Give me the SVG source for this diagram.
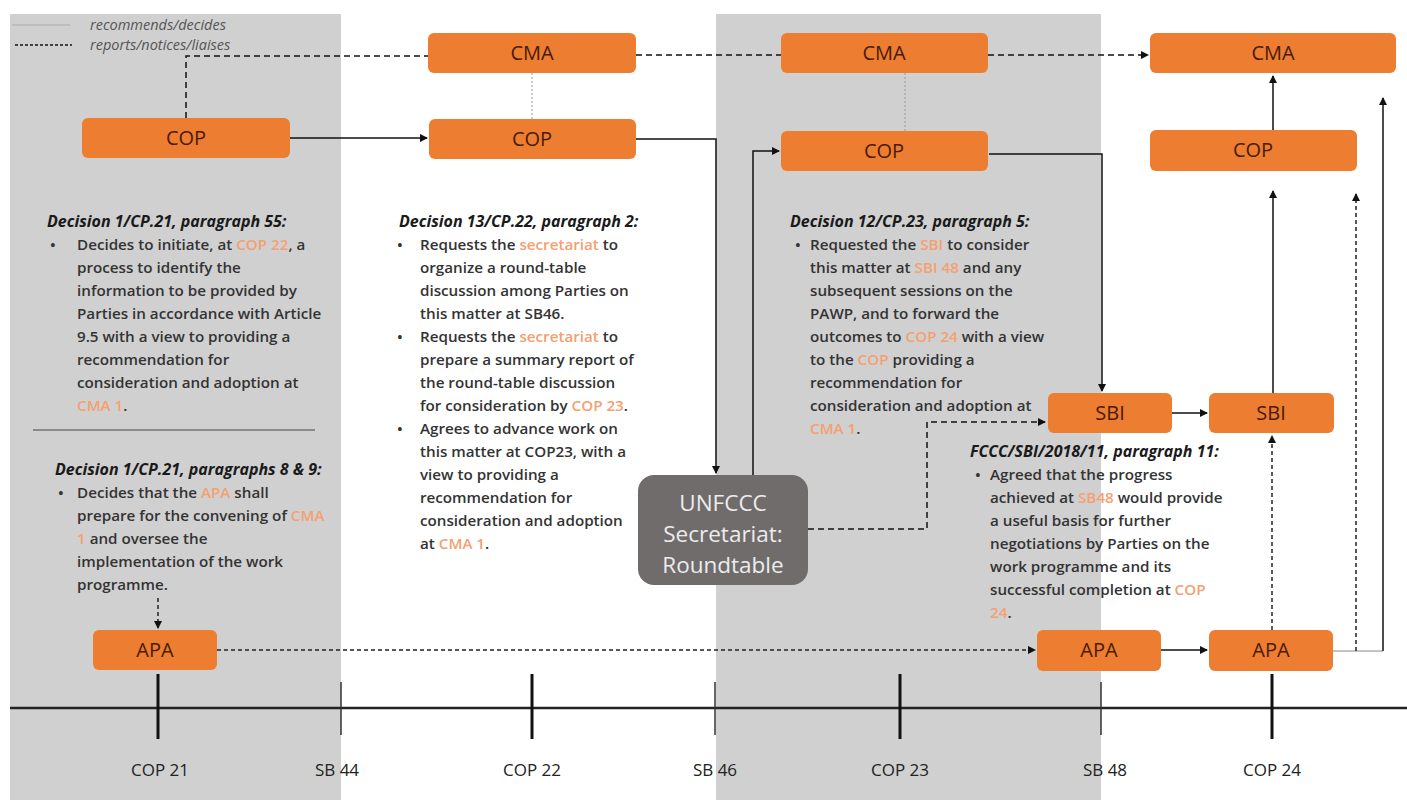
<svg xmlns="http://www.w3.org/2000/svg" width="1407" height="800" viewBox="0 0 1407 800">
<defs>
<style>
.band{fill:#D0D0D0}
.box rect{fill:#ED7D31}
.box text{font-family:"Open Sans","Liberation Sans",sans-serif;font-size:20px;fill:#4a1a08;text-anchor:middle}
.sec rect{fill:#716C6C}
.sec text{font-family:"Open Sans","Liberation Sans",sans-serif;font-size:22.5px;fill:#ECECEC;text-anchor:middle}
.txt{font-family:"Open Sans","Liberation Sans",sans-serif;font-size:15.2px;font-weight:600;fill:#333}
.hd{font-family:"Open Sans","Liberation Sans",sans-serif;font-size:16px;font-weight:700;font-style:italic;fill:#1a1a1a}
.o{fill:#F4A070}
.leg{font-family:"Open Sans","Liberation Sans",sans-serif;font-size:14.5px;font-style:italic;fill:#555}
.tl{font-family:"Open Sans","Liberation Sans",sans-serif;font-size:17px;fill:#222;text-anchor:middle}
.solid{fill:none;stroke:#111;stroke-width:1.5}
.dash{fill:none;stroke:#111;stroke-width:1.5;stroke-dasharray:6 4}
.fdash{fill:none;stroke:#222;stroke-width:1.5;stroke-dasharray:4 3}
.dot{fill:none;stroke:#9a9a9a;stroke-width:1;stroke-dasharray:2 2}
.thin{fill:none;stroke:#888;stroke-width:1}
</style>
<marker id="ah" markerWidth="8" markerHeight="8" refX="7" refY="4" orient="auto" markerUnits="userSpaceOnUse">
<path d="M0,0 L8,4 L0,8 Z" fill="#111"/>
</marker>
</defs>

<rect class="band" x="10" y="14" width="331" height="786"/>
<rect class="band" x="716" y="14" width="385" height="786"/>

<g id="legend">
<line x1="12" y1="25" x2="70" y2="25" stroke="#aaa" stroke-width="1"/>
<text class="leg" x="90" y="30">recommends/decides</text>
<line x1="15" y1="45" x2="72" y2="45" stroke="#111" stroke-width="1.5" stroke-dasharray="3 2"/>
<text class="leg" x="90" y="50">reports/notices/liaises</text>
</g>

<g id="timeline">
<line x1="10" y1="708" x2="1407" y2="708" stroke="#222" stroke-width="2.5"/>
<g stroke="#111" stroke-width="3">
<line x1="158" y1="674" x2="158" y2="739"/>
<line x1="532" y1="674" x2="532" y2="739"/>
<line x1="900" y1="674" x2="900" y2="739"/>
<line x1="1272" y1="674" x2="1272" y2="739"/>
</g>
<g stroke="#333" stroke-width="1.5">
<line x1="341" y1="682" x2="341" y2="735"/>
<line x1="715" y1="682" x2="715" y2="735"/>
<line x1="1101" y1="682" x2="1101" y2="735"/>
</g>
<text class="tl" x="160" y="776">COP 21</text>
<text class="tl" x="337" y="776">SB 44</text>
<text class="tl" x="532" y="776">COP 22</text>
<text class="tl" x="715" y="776">SB 46</text>
<text class="tl" x="900" y="776">COP 23</text>
<text class="tl" x="1105" y="776">SB 48</text>
<text class="tl" x="1272" y="776">COP 24</text>
</g>

<g id="connectors">
<path class="dash" d="M186,118 V56 H428"/>
<path class="dash" d="M636,55 H781"/>
<path class="dash" d="M988,55 H1148" marker-end="url(#ah)"/>
<path class="dot" d="M532,73 V119"/>
<path class="dot" d="M905,73 V131"/>
<path class="solid" d="M290,138 H427" marker-end="url(#ah)"/>
<path class="solid" d="M636,139 H716 V473" marker-end="url(#ah)"/>
<path class="solid" d="M753,475 V151 H779" marker-end="url(#ah)"/>
<path class="solid" d="M989,154 H1102 V391" marker-end="url(#ah)"/>
<path class="dash" d="M808,529 H927 V422 H1045" marker-end="url(#ah)"/>
<path class="fdash" d="M158,598 V628" marker-end="url(#ah)"/>
<path class="fdash" d="M217,650 H1035" marker-end="url(#ah)"/>
<path class="solid" d="M1161,650 H1207" marker-end="url(#ah)"/>
<path class="solid" d="M1172,413 H1207" marker-end="url(#ah)"/>
<path class="solid" d="M1273,393 V191" stroke="#444" marker-end="url(#ah)"/>
<path class="solid" d="M1273,130 V76" stroke="#444" marker-end="url(#ah)"/>
<path class="fdash" d="M1272,630 V436" marker-end="url(#ah)"/>
<path class="thin" d="M1333,651 H1383"/>
<path class="fdash" d="M1356,651 V194" marker-end="url(#ah)"/>
<path class="solid" d="M1383,651 V98" stroke-width="1.2" marker-end="url(#ah)"/>
</g>

<g id="cma1" class="box"><rect x="428" y="33" width="208" height="40" rx="6"/><text x="532" y="60">CMA</text></g>
<g id="cma2" class="box"><rect x="781" y="33" width="207" height="40" rx="6"/><text x="884" y="60">CMA</text></g>
<g id="cma3" class="box"><rect x="1150" y="33" width="246" height="40" rx="6"/><text x="1273" y="60">CMA</text></g>
<g id="cop1" class="box"><rect x="82" y="118" width="208" height="40" rx="6"/><text x="186" y="145">COP</text></g>
<g id="cop2" class="box"><rect x="429" y="119" width="207" height="40" rx="6"/><text x="532" y="146">COP</text></g>
<g id="cop3" class="box"><rect x="781" y="131" width="207" height="40" rx="6"/><text x="884" y="158">COP</text></g>
<g id="cop4" class="box"><rect x="1150" y="130" width="207" height="41" rx="6"/><text x="1253" y="157">COP</text></g>
<g id="sbi1" class="box"><rect x="1048" y="393" width="124" height="40" rx="6"/><text x="1110" y="420">SBI</text></g>
<g id="sbi2" class="box"><rect x="1209" y="393" width="125" height="40" rx="6"/><text x="1271" y="420">SBI</text></g>
<g id="apa1" class="box"><rect x="93" y="630" width="124" height="40" rx="6"/><text x="155" y="657">APA</text></g>
<g id="apa2" class="box"><rect x="1037" y="630" width="124" height="41" rx="6"/><text x="1099" y="657">APA</text></g>
<g id="apa3" class="box"><rect x="1209" y="630" width="124" height="41" rx="6"/><text x="1271" y="657">APA</text></g>
<g id="secretariat" class="sec"><rect x="638" y="475" width="170" height="110" rx="16"/>
<text x="723" y="511">UNFCCC</text><text x="723" y="542">Secretariat:</text><text x="723" y="573">Roundtable</text></g>

<g id="text-cop21">
<text class="hd" x="47" y="227">Decision 1/CP.21, paragraph 55:</text>
<g class="txt">
<text x="50" y="250">•</text>
<text x="77" y="250">Decides to initiate, at <tspan class="o">COP 22</tspan>, a</text>
<text x="77" y="273">process to identify the</text>
<text x="77" y="296">information to be provided by</text>
<text x="77" y="319">Parties in accordance with Article</text>
<text x="77" y="342">9.5 with a view to providing a</text>
<text x="77" y="365">recommendation for</text>
<text x="77" y="388">consideration and adoption at</text>
<text x="77" y="411"><tspan class="o">CMA 1</tspan>.</text>
</g>
<line x1="33" y1="430" x2="315" y2="430" stroke="#444" stroke-width="1"/>
<text class="hd" x="55" y="475">Decision 1/CP.21, paragraphs 8 &amp; 9:</text>
<g class="txt">
<text x="58" y="498">•</text>
<text x="77" y="498">Decides that the <tspan class="o">APA</tspan> shall</text>
<text x="77" y="521">prepare for the convening of <tspan class="o">CMA</tspan></text>
<text x="77" y="544"><tspan class="o">1</tspan> and oversee the</text>
<text x="77" y="567">implementation of the work</text>
<text x="77" y="590">programme.</text>
</g>
</g>

<g id="text-cop22">
<text class="hd" x="399" y="227">Decision 13/CP.22, paragraph 2:</text>
<g class="txt">
<text x="397" y="250">•</text>
<text x="420" y="250">Requests the <tspan class="o">secretariat</tspan> to</text>
<text x="420" y="273">organize a round-table</text>
<text x="420" y="296">discussion among Parties on</text>
<text x="420" y="319">this matter at SB46.</text>
<text x="397" y="342">•</text>
<text x="420" y="342">Requests the <tspan class="o">secretariat</tspan> to</text>
<text x="420" y="365">prepare a summary report of</text>
<text x="420" y="388">the round-table discussion</text>
<text x="420" y="411">for consideration by <tspan class="o">COP 23</tspan>.</text>
<text x="397" y="434">•</text>
<text x="420" y="434">Agrees to advance work on</text>
<text x="420" y="457">this matter at COP23, with a</text>
<text x="420" y="480">view to providing a</text>
<text x="420" y="503">recommendation for</text>
<text x="420" y="526">consideration and adoption</text>
<text x="420" y="549">at <tspan class="o">CMA 1</tspan>.</text>
</g>
</g>

<g id="text-cop23">
<text class="hd" x="790" y="227">Decision 12/CP.23, paragraph 5:</text>
<g class="txt">
<text x="795" y="250">•</text>
<text x="810" y="250">Requested the <tspan class="o">SBI</tspan> to consider</text>
<text x="810" y="273">this matter at <tspan class="o">SBI 48</tspan> and any</text>
<text x="810" y="296">subsequent sessions on the</text>
<text x="810" y="319">PAWP, and to forward the</text>
<text x="810" y="342">outcomes to <tspan class="o">COP 24</tspan> with a view</text>
<text x="810" y="365">to the <tspan class="o">COP</tspan> providing a</text>
<text x="810" y="388">recommendation for</text>
<text x="810" y="411">consideration and adoption at</text>
<text x="810" y="434"><tspan class="o">CMA 1</tspan>.</text>
</g>
</g>

<g id="text-sb48">
<text class="hd" x="970" y="457">FCCC/SBI/2018/11, paragraph 11:</text>
<g class="txt">
<text x="975" y="480">•</text>
<text x="990" y="480">Agreed that the progress</text>
<text x="990" y="503">achieved at <tspan class="o">SB48</tspan> would provide</text>
<text x="990" y="526">a useful basis for further</text>
<text x="990" y="549">negotiations by Parties on the</text>
<text x="990" y="572">work programme and its</text>
<text x="990" y="595">successful completion at <tspan class="o">COP</tspan></text>
<text x="990" y="618"><tspan class="o">24</tspan>.</text>
</g>
</g>
</svg>
